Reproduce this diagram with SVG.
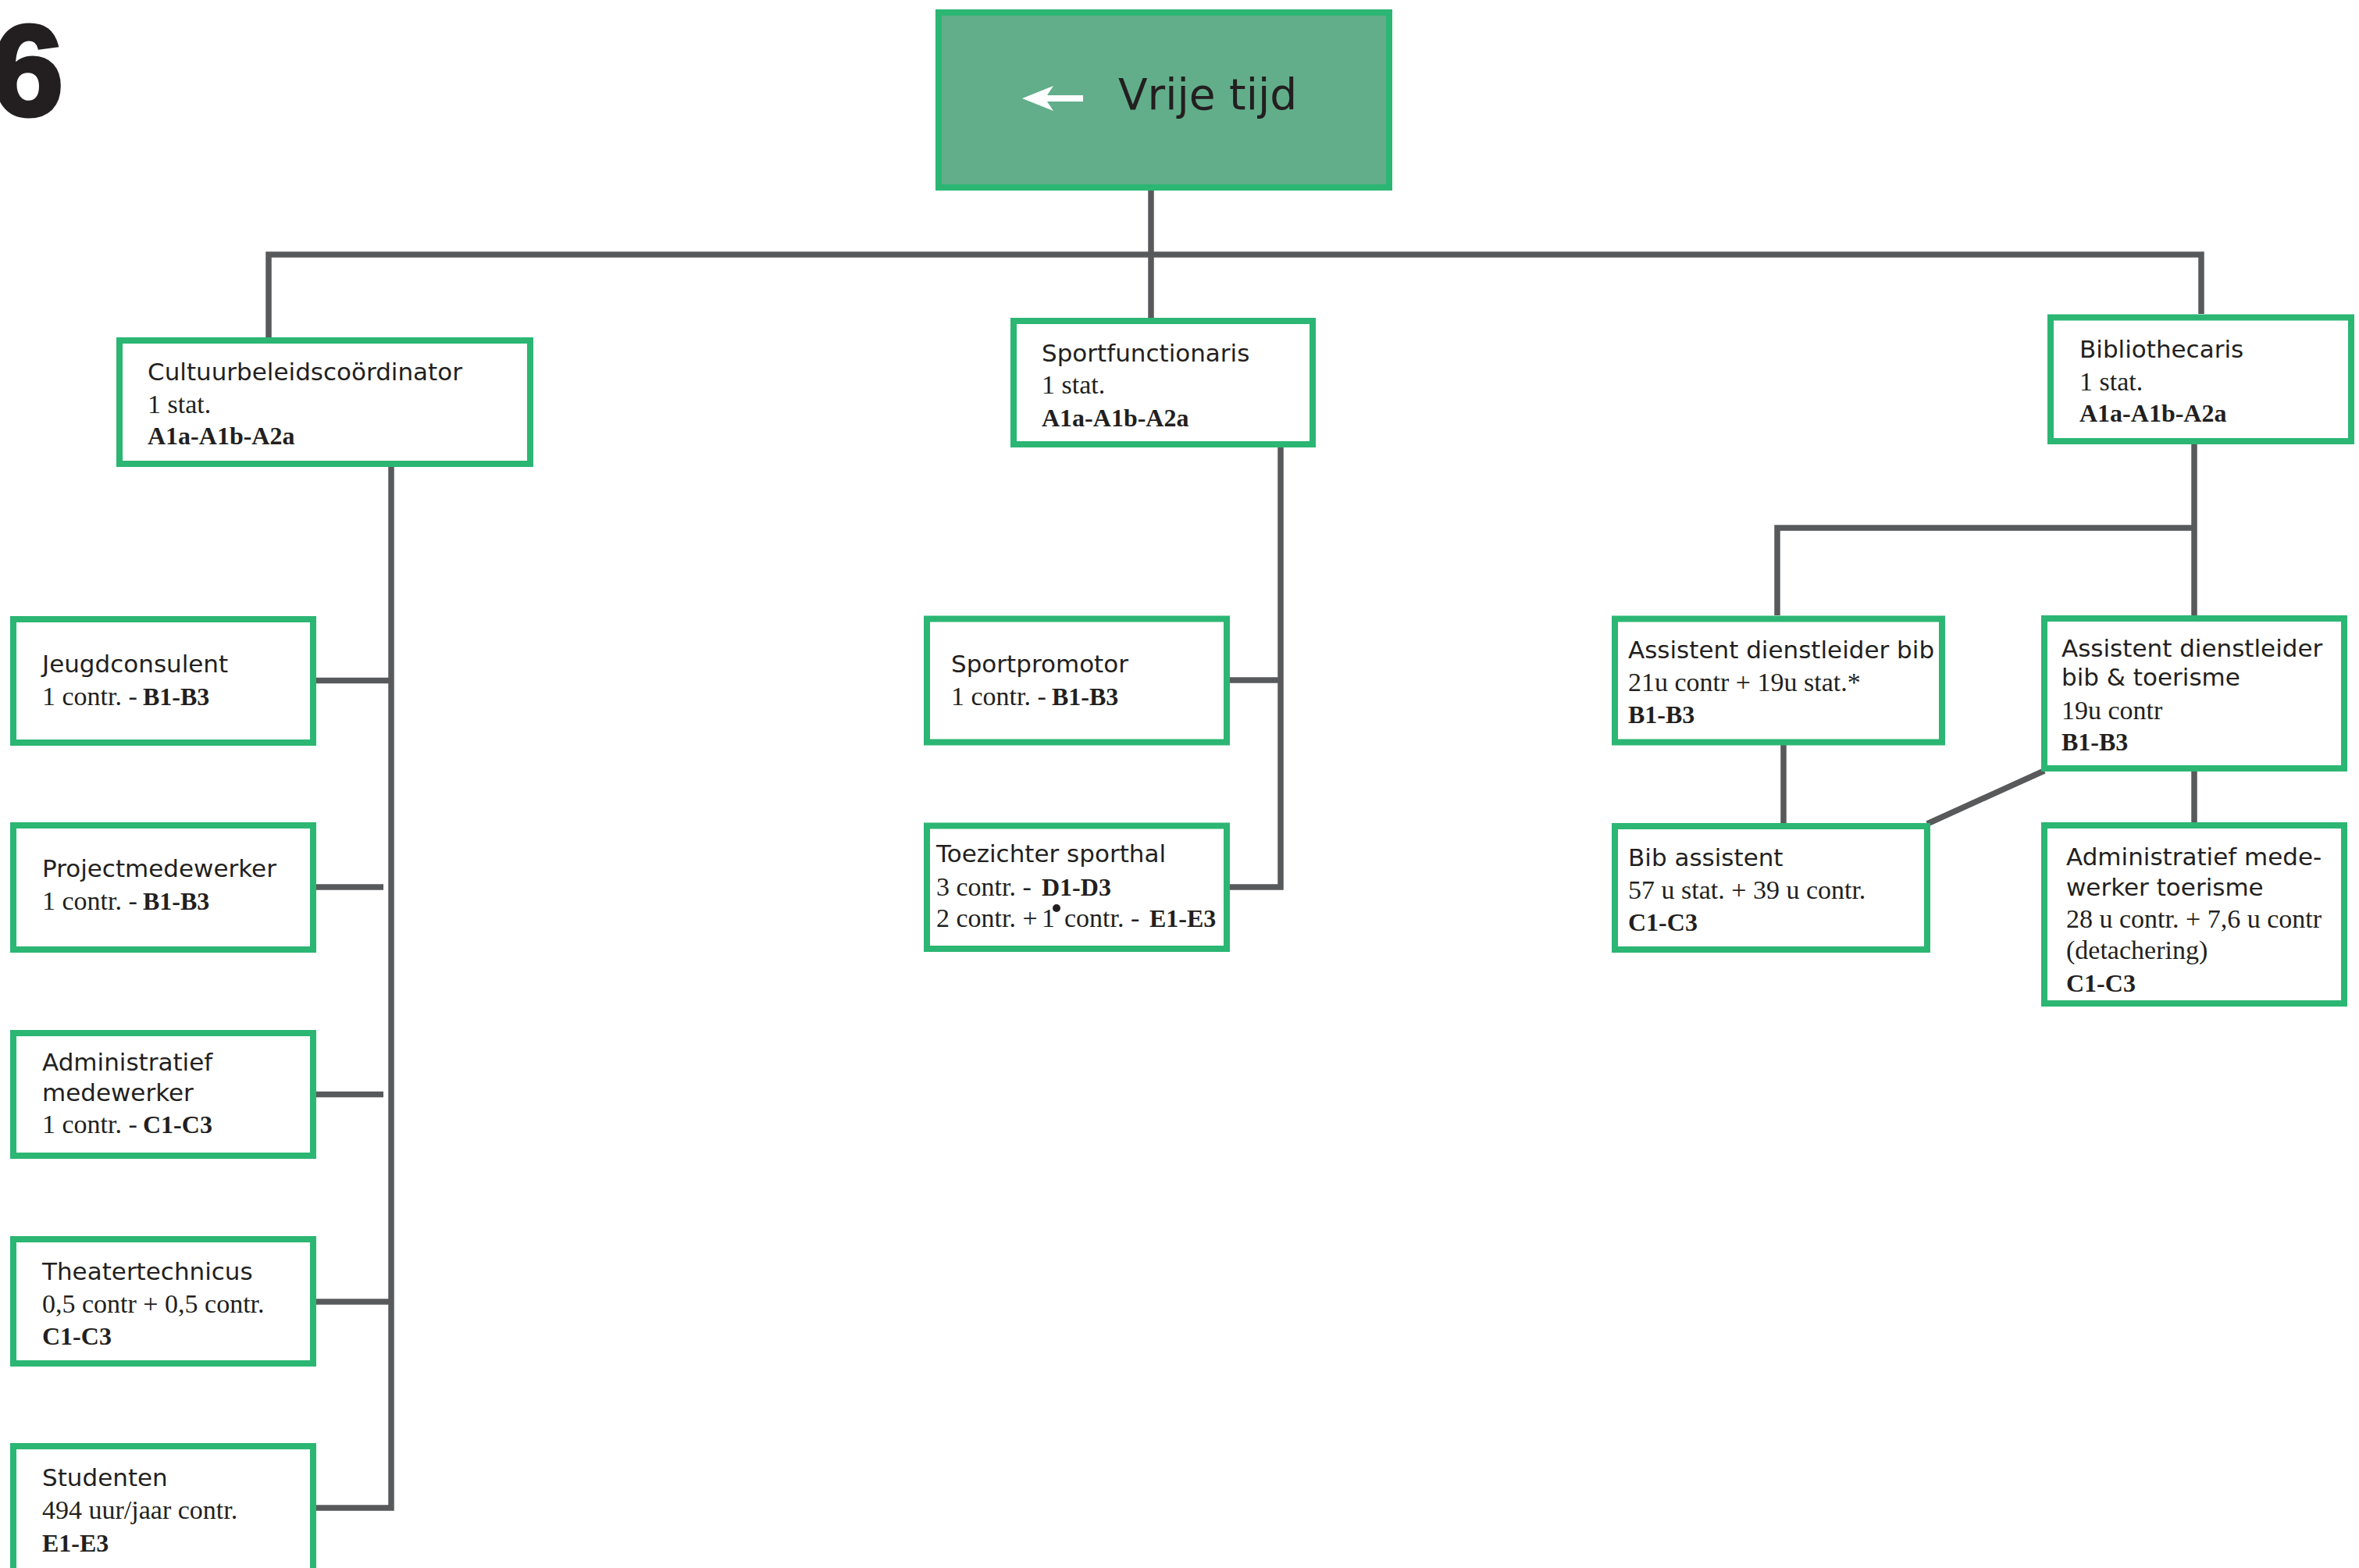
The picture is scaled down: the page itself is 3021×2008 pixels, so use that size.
<svg xmlns="http://www.w3.org/2000/svg" width="3021" height="2008" viewBox="0 0 3021 2008">
<style>
.box{fill:#fff;stroke:#2BB673;stroke-width:8}
.top{fill:#62AE8B;stroke:#2BB673;stroke-width:8}
.t{font-family:"DejaVu Sans","Liberation Sans",sans-serif;font-size:31px;fill:#231F20}
.s{font-family:"Liberation Serif",serif;font-size:34px;fill:#231F20}
.b{font-family:"Liberation Serif",serif;font-weight:bold;font-size:32px;fill:#231F20}
.c{stroke:#58595B;stroke-width:7.5;fill:none;stroke-linejoin:miter}
</style>
<rect width="3021" height="2008" fill="#fff"/>
<text x="-11" y="147" font-family="Liberation Sans, Arial, sans-serif" font-weight="bold" font-size="166" fill="#231F20" stroke="#231F20" stroke-width="5">6</text>
<g id="connectors" class="c">
<path d="M1474 244 V407"/>
<path d="M344 432 V326 H2819 V402"/>
<path d="M501 598 V1931 H405"/>
<path d="M405 871.5 H501"/>
<path d="M405 1136 H491"/>
<path d="M405 1401.5 H491"/>
<path d="M405 1667 H501"/>
<path d="M1640 573 V1136 H1575"/>
<path d="M1575 871 H1640"/>
<path d="M2810 569 V788"/>
<path d="M2276 788 V676 H2810"/>
<path d="M2284 954 V1054"/>
<path d="M2810 988 V1053"/>
<path d="M2468 1055 L2618 987"/>
</g>
<g id="vrije-tijd">
<rect class="top" x="1202" y="16" width="577" height="224"/>
<polygon points="1309,126 1349,110 1341,122 1387,122 1387,130 1341,130 1349,142" fill="#fff"/>
<text x="1432" y="140" font-family="DejaVu Sans, Liberation Sans, sans-serif" font-size="55" fill="#231F20">Vrije tijd</text>
</g>
<g id="cultuurbeleidscoordinator">
<rect class="box" x="153" y="436" width="526" height="158"/>
<text class="t" x="189" y="487">Cultuurbeleidscoördinator</text>
<text class="s" x="189" y="529">1 stat.</text>
<text class="b" x="189" y="569">A1a-A1b-A2a</text>
</g>
<g id="sportfunctionaris">
<rect class="box" x="1298" y="411" width="383" height="158"/>
<text class="t" x="1334" y="463">Sportfunctionaris</text>
<text class="s" x="1334" y="504">1 stat.</text>
<text class="b" x="1334" y="546">A1a-A1b-A2a</text>
</g>
<g id="bibliothecaris">
<rect class="box" x="2626" y="406.5" width="385" height="158.5"/>
<text class="t" x="2663" y="458">Bibliothecaris</text>
<text class="s" x="2663" y="500">1 stat.</text>
<text class="b" x="2663" y="540">A1a-A1b-A2a</text>
</g>
<g id="jeugdconsulent">
<rect class="box" x="17" y="793" width="384" height="158"/>
<text class="t" x="54" y="861">Jeugdconsulent</text>
<text class="s" x="54" y="903">1 contr. - <tspan class="b" x="183">B1-B3</tspan></text>
</g>
<g id="projectmedewerker">
<rect class="box" x="17" y="1057" width="384" height="159"/>
<text class="t" x="54" y="1123">Projectmedewerker</text>
<text class="s" x="54" y="1165">1 contr. - <tspan class="b" x="183">B1-B3</tspan></text>
</g>
<g id="administratief-medewerker">
<rect class="box" x="17" y="1323" width="384" height="157"/>
<text class="t" x="54" y="1371">Administratief</text>
<text class="t" x="54" y="1410">medewerker</text>
<text class="s" x="54" y="1451">1 contr. - <tspan class="b" x="183">C1-C3</tspan></text>
</g>
<g id="theatertechnicus">
<rect class="box" x="17" y="1587" width="384" height="159"/>
<text class="t" x="54" y="1639">Theatertechnicus</text>
<text class="s" x="54" y="1681">0,5 contr + 0,5 contr.</text>
<text class="b" x="54" y="1722">C1-C3</text>
</g>
<g id="studenten">
<rect class="box" x="17" y="1852" width="384" height="172"/>
<text class="t" x="54" y="1903">Studenten</text>
<text class="s" x="54" y="1945">494 uur/jaar contr.</text>
<text class="b" x="54" y="1987">E1-E3</text>
</g>
<g id="sportpromotor">
<rect class="box" x="1187" y="792.5" width="384" height="158"/>
<text class="t" x="1218" y="861">Sportpromotor</text>
<text class="s" x="1218" y="903">1 contr. - <tspan class="b" x="1347">B1-B3</tspan></text>
</g>
<g id="toezichter-sporthal">
<rect class="box" x="1187" y="1057.5" width="384" height="157.5"/>
<text class="t" x="1199" y="1104">Toezichter sporthal</text>
<text class="s" x="1199" y="1147">3 contr. - <tspan class="b" x="1334">D1-D3</tspan></text>
<text class="s" x="1199" y="1187">2 contr. +<tspan x="1334">1</tspan><tspan x="1363">contr. - </tspan><tspan class="b" x="1472">E1-E3</tspan></text>
<circle cx="1353" cy="1163" r="5" fill="#231F20"/>
</g>
<g id="assistent-dienstleider-bib">
<rect class="box" x="2068" y="792.5" width="419" height="158"/>
<text class="t" x="2085" y="843">Assistent dienstleider bib</text>
<text class="s" x="2085" y="885">21u contr + 19u stat.*</text>
<text class="b" x="2085" y="926">B1-B3</text>
</g>
<g id="bib-assistent">
<rect class="box" x="2068" y="1058" width="400" height="158"/>
<text class="t" x="2085" y="1109">Bib assistent</text>
<text class="s" x="2085" y="1151">57 u stat. + 39 u contr.</text>
<text class="b" x="2085" y="1192">C1-C3</text>
</g>
<g id="assistent-dienstleider-bib-toerisme">
<rect class="box" x="2618" y="792" width="384" height="192"/>
<text class="t" x="2640" y="841">Assistent dienstleider</text>
<text class="t" x="2640" y="878">bib &amp; toerisme</text>
<text class="s" x="2640" y="921">19u contr</text>
<text class="b" x="2640" y="961">B1-B3</text>
</g>
<g id="administratief-medewerker-toerisme">
<rect class="box" x="2618" y="1057" width="384" height="228"/>
<text class="t" x="2646" y="1108">Administratief mede-</text>
<text class="t" x="2646" y="1147">werker toerisme</text>
<text class="s" x="2646" y="1188">28 u contr. + 7,6 u contr</text>
<text class="s" x="2646" y="1228">(detachering)</text>
<text class="b" x="2646" y="1270">C1-C3</text>
</g>
</svg>
